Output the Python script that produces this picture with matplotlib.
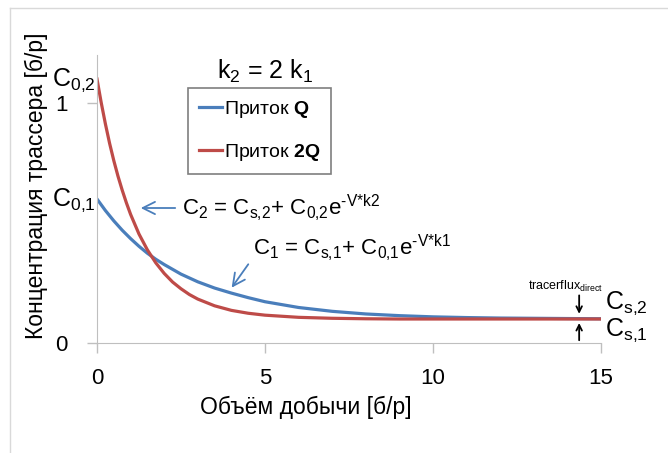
import numpy as np
import matplotlib
matplotlib.use("Agg")
import matplotlib.pyplot as plt
from matplotlib.lines import Line2D

plt.rcParams['font.family'] = ['Liberation Sans', 'DejaVu Sans']
plt.rcParams['mathtext.fontset'] = 'custom'
plt.rcParams['mathtext.rm'] = 'Liberation Sans'
plt.rcParams['mathtext.it'] = 'Liberation Sans'
plt.rcParams['mathtext.bf'] = 'Liberation Sans:bold'

### Data.

volume_q = [0, 0.25, 0.5, 0.75, 1, 1.25, 1.5, 1.75, 2, 2.5, 3, 3.5, 4, 4.5, 5, 6, 7, 8,
            9, 10, 11, 12, 13, 14, 15]
conc_q = [0.600, 0.552, 0.509, 0.470, 0.435, 0.403, 0.374, 0.349, 0.327, 0.287, 0.255,
          0.229, 0.208, 0.189, 0.172, 0.148, 0.132, 0.121, 0.114, 0.109, 0.106, 0.104,
          0.103, 0.102, 0.101]

volume_2q = [0, 0.125, 0.25, 0.375, 0.5, 0.625, 0.75, 0.875, 1, 1.25, 1.5, 1.75, 2,
             2.25, 2.5, 2.75, 3, 3.5, 4, 4.5, 5, 6, 7, 8, 9, 10, 12, 15]
conc_2q = [1.100, 1.002, 0.913, 0.832, 0.760, 0.695, 0.637, 0.584, 0.536, 0.454, 0.388,
           0.334, 0.290, 0.254, 0.226, 0.202, 0.183, 0.155, 0.136, 0.124, 0.116, 0.107,
           0.103, 0.101, 0.100, 0.100, 0.100, 0.100]

x_ticks = [0, 5, 10, 15]
y_ticks = [0, 1]
labels = ['Приток $\\mathbf{Q}$', 'Приток $\\mathbf{2Q}$']

blue = '#4a7ebb'
red = '#be4b48'
grey = '#bfbfbf'

### Figure.

fig = plt.figure(figsize=(6.68, 4.53), dpi=100)
ax = fig.add_axes([0.1452, 0.2428, 0.7545, 0.6358])

ax.plot(volume_q, conc_q, color=blue, lw=2.3, label=labels[0])
ax.plot(volume_2q, conc_2q, color=red, lw=2.3, label=labels[1])

ax.set_xlim(0, 15)
ax.set_ylim(0, 1.2)
ax.set_xticks(x_ticks)
ax.set_yticks(y_ticks)
ax.tick_params(direction='out', length=7, color=grey, labelsize=16, width=1)
ax.tick_params(axis='x', pad=11)
ax.tick_params(axis='y', pad=14)
for side in ['top', 'right']:
    ax.spines[side].set_visible(False)
for side in ['left', 'bottom']:
    ax.spines[side].set_color(grey)

ax.set_xlabel('Объём добычи [б/р]', fontsize=16.5)
ax.set_ylabel('Концентрация трассера [б/р]', fontsize=16.5)
ax.xaxis.set_label_coords(0.415, -0.185)
ax.yaxis.set_label_coords(-0.097, 0.545)

leg = ax.legend(loc='upper left', bbox_to_anchor=(0.1806, 0.885), borderaxespad=0,
                fontsize=14, handlelength=1.2, handletextpad=0.1, labelspacing=1.15,
                borderpad=0.55, fancybox=False, edgecolor='#7f7f7f', framealpha=1)
leg.get_frame().set_linewidth(1.2)

### Annotations.

txt = dict(fontsize=18, clip_on=False)
ax.text(5.0, 1.13, 'k$_2$ = 2 k$_1$', ha='center', va='center', **txt)
ax.text(-0.05, 1.096, 'C$_{0{,}2}$', ha='right', va='center', **txt)
ax.text(-0.05, 0.596, 'C$_{0{,}1}$', ha='right', va='center', **txt)

eq = dict(fontsize=16, va='center', clip_on=False)
ax.text(2.53, 0.5625, 'C$_2$ = C$_{\\mathrm{s{,}2}}$+ C$_{0{,}2}$e$^{\\text{-V*k2}}$', **eq)
ax.annotate('', xy=(1.22, 0.5625), xytext=(2.41, 0.5625),
            arrowprops=dict(arrowstyle='->', color=blue, lw=1.3, mutation_scale=22))
ax.text(4.64, 0.396, 'C$_1$ = C$_{\\mathrm{s{,}1}}$+ C$_{0{,}1}$e$^{\\text{-V*k1}}$', **eq)
ax.annotate('', xy=(3.96, 0.221), xytext=(4.55, 0.3375),
            arrowprops=dict(arrowstyle='->', color=blue, lw=1.3, mutation_scale=22))

ax.text(13.93, 0.2375, 'tracerflux$_{\\mathrm{direct}}$', fontsize=9, ha='center', va='center')
ax.annotate('', xy=(14.35, 0.11), xytext=(14.35, 0.21),
            arrowprops=dict(arrowstyle='->', color='black', lw=1.3), annotation_clip=False)
ax.annotate('', xy=(14.35, 0.095), xytext=(14.35, 0.0),
            arrowprops=dict(arrowstyle='->', color='black', lw=1.3), annotation_clip=False)
ax.text(15.12, 0.167, 'C$_{\\mathrm{s{,}2}}$', ha='left', va='center', **txt)
ax.text(15.12, 0.054, 'C$_{\\mathrm{s{,}1}}$', ha='left', va='center', **txt)

# faint frame of the original slide
fig.add_artist(Line2D([10 / 668, 1], [1 - 8 / 453, 1 - 8 / 453], color='#d9d9d9', lw=1))
fig.add_artist(Line2D([10 / 668, 10 / 668], [0, 1 - 8 / 453], color='#d9d9d9', lw=1))

fig.savefig('out.png', dpi=100)
